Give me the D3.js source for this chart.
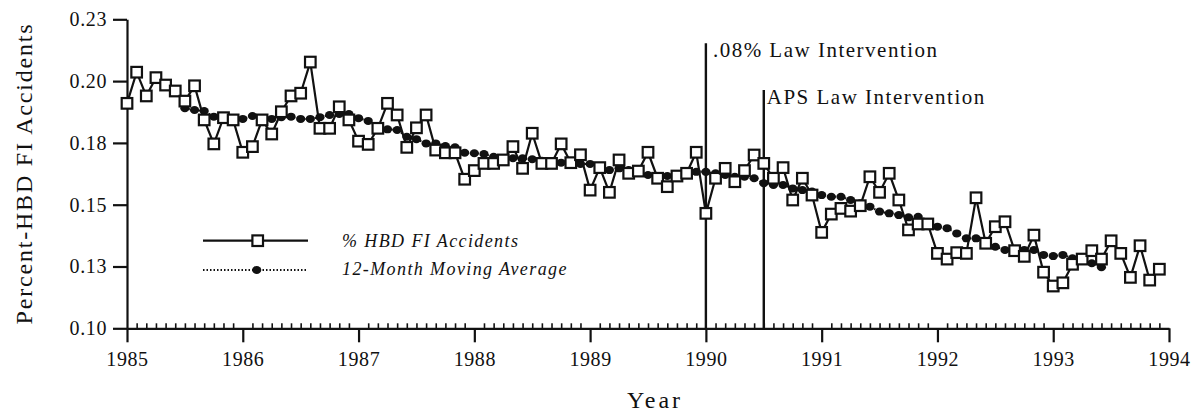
<!DOCTYPE html>
<html>
<head>
<meta charset="utf-8">
<script src="https://cdn.jsdelivr.net/npm/d3@7"></script>
<style>
  body { margin: 0; background: #fff; }
  svg text { font-family: "Liberation Serif", "Times New Roman", serif; fill: #111; }
</style>
</head>
<body>
<div id="chart"></div>
<script>
// monthly percent of HBD FI accidents, Jan 1985 .. Dec 1993
const hbdPct = [
  0.1910, 0.2036, 0.1940, 0.2014, 0.1984, 0.1960, 0.1919, 0.1981, 0.1843, 0.1746, 0.1852, 0.1843,
  0.1712, 0.1735, 0.1843, 0.1786, 0.1876, 0.1940, 0.1951, 0.2077, 0.1809, 0.1809, 0.1896, 0.1843,
  0.1757, 0.1744, 0.1809, 0.1910, 0.1863, 0.1732, 0.1811, 0.1863, 0.1721, 0.1710, 0.1710, 0.1603,
  0.1638, 0.1667, 0.1667, 0.1681, 0.1735, 0.1647, 0.1789, 0.1667, 0.1667, 0.1746, 0.1670, 0.1702,
  0.1559, 0.1650, 0.1550, 0.1681, 0.1627, 0.1636, 0.1712, 0.1607, 0.1573, 0.1616, 0.1627, 0.1712,
  0.1465, 0.1607, 0.1647, 0.1593, 0.1638, 0.1701, 0.1667, 0.1607, 0.1650, 0.1519, 0.1607, 0.1539,
  0.1388, 0.1462, 0.1485, 0.1474, 0.1496, 0.1613, 0.1550, 0.1627, 0.1519, 0.1398, 0.1422, 0.1422,
  0.1303, 0.1280, 0.1306, 0.1303, 0.1528, 0.1344, 0.1411, 0.1431, 0.1314, 0.1291, 0.1377, 0.1227,
  0.1171, 0.1184, 0.1259, 0.1280, 0.1314, 0.1280, 0.1354, 0.1303, 0.1206, 0.1334, 0.1195, 0.1239
];

// 12-month moving average (no value where the window is incomplete)
const movingAvg = [
  null,   null,   null,   null,   null,   null,   0.1890, 0.1883, 0.1879, 0.1856, 0.1854, 0.1847,
  0.1847, 0.1859, 0.1847, 0.1847, 0.1854, 0.1856, 0.1847, 0.1847, 0.1854, 0.1863, 0.1867, 0.1867,
  0.1850, 0.1839, 0.1813, 0.1805, 0.1802, 0.1775, 0.1765, 0.1748, 0.1748, 0.1737, 0.1732, 0.1710,
  0.1708, 0.1705, 0.1694, 0.1688, 0.1688, 0.1688, 0.1684, 0.1678, 0.1674, 0.1670, 0.1670, 0.1665,
  0.1665, 0.1651, 0.1640, 0.1647, 0.1640, 0.1633, 0.1620, 0.1613, 0.1616, 0.1620, 0.1629, 0.1633,
  0.1633, 0.1627, 0.1620, 0.1613, 0.1613, 0.1607, 0.1587, 0.1580, 0.1580, 0.1566, 0.1559, 0.1553,
  0.1539, 0.1532, 0.1532, 0.1519, 0.1506, 0.1492, 0.1472, 0.1465, 0.1458, 0.1449, 0.1451, 0.1425,
  0.1411, 0.1405, 0.1384, 0.1364, 0.1364, 0.1344, 0.1330, 0.1317, 0.1315, 0.1317, 0.1317, 0.1297,
  0.1292, 0.1297, 0.1283, 0.1276, 0.1263, 0.1247, null,   null,   null,   null,   null,   null
];

const startYear = 1985;
const yearTicks = [1985, 1986, 1987, 1988, 1989, 1990, 1991, 1992, 1993, 1994];
const yTickValues = [0.100, 0.125, 0.150, 0.175, 0.200, 0.225];
const yTickLabels = ["0.10", "0.13", "0.15", "0.18", "0.20", "0.23"];
const interventionYears = [1990, 1990.5];
const interventionLabels = [".08% Law Intervention", "APS Law Intervention"];
const legendLabels = ["% HBD FI Accidents", "12-Month Moving Average"];

const margin = {top: 19.3, right: 26, bottom: 86.7, left: 127};
const width = 1195 - margin.left - margin.right;
const height = 415 - margin.top - margin.bottom;

const svg = d3.select("#chart")
    .append("svg")
    .attr("width", width + margin.left + margin.right)
    .attr("height", height + margin.top + margin.bottom)
    .append("g")
    .attr("transform", `translate(${margin.left},${margin.top})`);

const x = d3.scaleLinear()
    .domain([yearTicks[0], yearTicks[yearTicks.length - 1]])
    .range([0, width]);

const y = d3.scaleLinear()
    .domain([yTickValues[0], yTickValues[yTickValues.length - 1]])
    .range([height, 0]);

const monthX = i => x(startYear + i / 12);

// minor (monthly) ticks, pointing up into the plot
const minorTicks = d3.range(0, (yearTicks.length - 1) * 12)
    .filter(i => i % 12 !== 0)
    .map(i => startYear + i / 12);

svg.append("g")
    .attr("transform", `translate(0, ${height})`)
    .call(d3.axisBottom(x).tickValues(minorTicks).tickSize(-5).tickSizeOuter(0).tickFormat(""))
    .call(g => g.select(".domain").remove())
    .call(g => g.selectAll("line").attr("stroke", "#111").attr("stroke-width", 1.6));

// X axis
svg.append("g")
    .attr("transform", `translate(0, ${height})`)
    .call(d3.axisBottom(x).tickValues(yearTicks).tickFormat(d3.format("d"))
        .tickSize(14).tickSizeOuter(0).tickPadding(10))
    .call(g => g.select(".domain").attr("stroke", "#111").attr("stroke-width", 2.2))
    .call(g => g.selectAll("line").attr("stroke", "#111").attr("stroke-width", 2.2))
    .call(g => g.selectAll("text").style("font-size", "20px").style("letter-spacing", "0.6px").attr("fill", "#111"));

svg.append("text")
    .attr("text-anchor", "middle")
    .attr("x", 655 - margin.left)
    .attr("y", 408 - margin.top)
    .style("font-size", "24px")
    .style("letter-spacing", "3px")
    .text("Year");

// Y axis
svg.append("g")
    .call(d3.axisLeft(y).tickValues(yTickValues).tickFormat((d, i) => yTickLabels[i])
        .tickSize(14).tickSizeOuter(0).tickPadding(6))
    .call(g => g.select(".domain").attr("stroke", "#111").attr("stroke-width", 2.2))
    .call(g => g.selectAll("line").attr("stroke", "#111").attr("stroke-width", 2.2))
    .call(g => g.selectAll("text").style("font-size", "20px").style("letter-spacing", "0.6px").attr("fill", "#111"));

svg.append("text")
    .attr("text-anchor", "middle")
    .attr("transform", `translate(${31.5 - margin.left}, ${173.5 - margin.top}) rotate(-90)`)
    .style("font-size", "24px")
    .style("letter-spacing", "1.8px")
    .text("Percent-HBD FI Accidents");

// intervention lines
const lineTops = [43.3, 90];
const labelBase = [56.7, 104];
interventionYears.forEach((yr, k) => {
    svg.append("line")
        .attr("x1", x(yr)).attr("x2", x(yr))
        .attr("y1", lineTops[k] - margin.top).attr("y2", height)
        .attr("stroke", "#111")
        .attr("stroke-width", 2.4);
    svg.append("text")
        .attr("x", x(yr) + (k === 0 ? 7 : 3))
        .attr("y", labelBase[k] - margin.top)
        .style("font-size", "21px")
        .style("letter-spacing", "1.5px")
        .text(interventionLabels[k]);
});

// data line
const hbd = hbdPct.map((v, i) => ({i: i, v: v}));
const ma = movingAvg.map((v, i) => ({i: i, v: v})).filter(d => d.v !== null);

svg.append("path")
    .datum(hbd)
    .attr("fill", "none")
    .attr("stroke", "#111")
    .attr("stroke-width", 2.2)
    .attr("d", d3.line().x(d => monthX(d.i)).y(d => y(d.v)));

// moving average
svg.append("path")
    .datum(ma)
    .attr("fill", "none")
    .attr("stroke", "#111")
    .attr("stroke-width", 2)
    .attr("stroke-dasharray", "1.5,2")
    .attr("d", d3.line().x(d => monthX(d.i)).y(d => y(d.v)));

svg.selectAll("maDot")
    .data(ma)
    .join("ellipse")
    .attr("cx", d => monthX(d.i))
    .attr("cy", d => y(d.v))
    .attr("rx", 4.6)
    .attr("ry", 4)
    .attr("fill", "#111");

// squares
svg.selectAll("hbdMark")
    .data(hbd)
    .join("rect")
    .attr("x", d => monthX(d.i) - 5.3)
    .attr("y", d => y(d.v) - 5.3)
    .attr("width", 10.6)
    .attr("height", 10.6)
    .attr("fill", "#fff")
    .attr("stroke", "#111")
    .attr("stroke-width", 2.2);

// legend
const lg = svg.append("g").attr("transform", `translate(${-margin.left}, ${-margin.top})`);
lg.append("line").attr("x1", 203).attr("x2", 308).attr("y1", 240.7).attr("y2", 240.7)
    .attr("stroke", "#111").attr("stroke-width", 2.2);
lg.append("rect").attr("x", 252.4).attr("y", 235.4).attr("width", 10.6).attr("height", 10.6)
    .attr("fill", "#fff").attr("stroke", "#111").attr("stroke-width", 2.2);
lg.append("line").attr("x1", 203).attr("x2", 307).attr("y1", 270).attr("y2", 270)
    .attr("stroke", "#111").attr("stroke-width", 2).attr("stroke-dasharray", "1.5,2");
lg.append("ellipse").attr("cx", 256.7).attr("cy", 270).attr("rx", 4.6).attr("ry", 4).attr("fill", "#111");

legendLabels.forEach((t, k) => {
    lg.append("text")
        .attr("x", 342)
        .attr("y", k === 0 ? 246.7 : 275)
        .style("font-size", "18px")
        .style("font-style", "italic")
        .style("letter-spacing", "1.4px")
        .text(t);
});
</script>
</body>
</html>
